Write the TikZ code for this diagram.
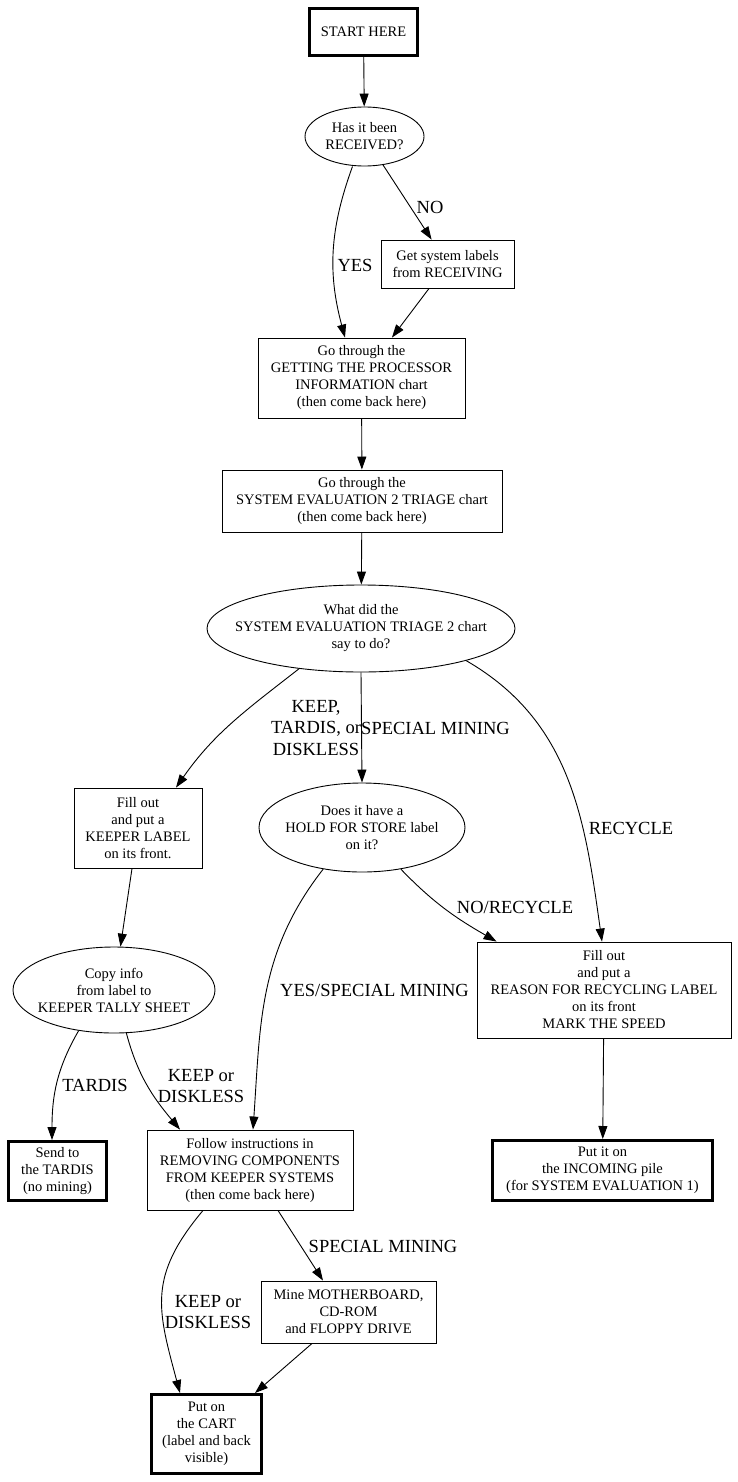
\documentclass[tikz,border=0pt]{standalone}
\usepackage{fontspec}
\setmainfont{Liberation Serif}
\usetikzlibrary{arrows.meta,shapes.geometric}
\newcommand\ndfont{\fontsize{14.5}{17}\selectfont}
\newcommand\lbfont{\fontsize{18.5}{21.5}\selectfont}
\begin{document}
\begin{tikzpicture}[x=1pt,y=1pt,
  box/.style={draw,line width=0.9pt,rectangle,inner sep=0pt,align=center,font=\ndfont},
  thickbox/.style={box,line width=3pt},
  oval/.style={draw,line width=0.9pt,ellipse,inner xsep=-40pt,inner ysep=-20pt,align=center,font=\ndfont},
  edge/.style={line width=0.9pt,-{Triangle[length=13pt,width=9pt]}},
  lbl/.style={inner sep=0pt,align=center,font=\lbfont}]
\fill[white] (0,0) rectangle (738,-1482);
\useasboundingbox (0,0) rectangle (738,-1482);

% nodes
\node[thickbox,minimum width=108pt,minimum height=47pt] (start) at (363.5,-32) {START HERE};
\node[oval,minimum width=119pt,minimum height=59pt] (rec) at (364.5,-136.5) {Has it been\\RECEIVED?};
\node[box,minimum width=133pt,minimum height=48pt] (getlab) at (447.5,-264) {Get system labels\\from RECEIVING};
\node[box,minimum width=207pt,minimum height=80pt] (proc) at (361.5,-378) {Go through the\\GETTING THE PROCESSOR\\INFORMATION chart\\(then come back here)};
\node[box,minimum width=280pt,minimum height=62pt] (eval) at (362,-501) {Go through the\\SYSTEM EVALUATION 2 TRIAGE chart\\(then come back here)};
\node[oval,minimum width=308pt,minimum height=87pt] (what) at (361,-628.5) {What did the\\SYSTEM EVALUATION TRIAGE 2 chart\\say to do?};
\node[box,minimum width=128pt,minimum height=80pt] (keeper) at (138,-828) {Fill out\\and put a\\KEEPER LABEL\\on its front.};
\node[oval,minimum width=206pt,minimum height=89pt] (hold) at (362,-827.5) {Does it have a\\HOLD FOR STORE label\\on it?};
\node[box,minimum width=254pt,minimum height=96pt] (recyc) at (604,-990) {Fill out\\and put a\\REASON FOR RECYCLING LABEL\\on its front\\MARK THE SPEED};
\node[oval,minimum width=202pt,minimum height=86pt] (copy) at (114,-990) {Copy info\\from label to\\KEEPER TALLY SHEET};
\node[thickbox,minimum width=98pt,minimum height=59pt] (send) at (57.5,-1171) {Send to\\the TARDIS\\(no mining)};
\node[box,minimum width=206pt,minimum height=80pt] (follow) at (250,-1170) {Follow instructions in\\REMOVING COMPONENTS\\FROM KEEPER SYSTEMS\\(then come back here)};
\node[thickbox,minimum width=220pt,minimum height=60pt] (incoming) at (602.5,-1170.5) {Put it on\\the INCOMING pile\\(for SYSTEM EVALUATION 1)};
\node[box,minimum width=175pt,minimum height=62pt] (mine) at (348.5,-1312) {Mine MOTHERBOARD,\\CD-ROM\\and FLOPPY DRIVE};
\node[thickbox,minimum width=110pt,minimum height=79pt] (cart) at (206.5,-1434) {Put on\\the CART\\(label and back\\visible)};

% edges
\draw[edge] (start) -- (rec);
\draw[edge] ([xshift=-12pt]rec.south) to[out=-110,in=105] ([xshift=-16.5pt]proc.north);
\draw[edge] (rec) -- (getlab);
\draw[edge] (getlab) -- (proc);
\draw[edge] (proc) -- (eval);
\draw[edge] (eval) -- (what);
\draw[edge] (what.213) to[out=218,in=55] ([xshift=38pt]keeper.north);
\draw[edge] (what.south) -- (hold.north);
\draw[edge] (what.-17) to[out=-30,in=98] ([xshift=-2pt]recyc.north);
\draw[edge] (hold.-47) to[out=-46,in=150] ([xshift=20pt]recyc.north west);
\draw[edge] (hold.227) to[out=-128,in=86] ([xshift=3pt]follow.north);
\draw[edge] (keeper) -- (copy);
\draw[edge] (copy.229) to[out=-120,in=90] ([xshift=-5.5pt]send.north);
\draw[edge] (copy.-74) to[out=-75,in=130] ([xshift=-70pt]follow.north);
\draw[edge] (recyc) -- (incoming);
\draw[edge] ([xshift=-47pt]follow.south) to[out=-130,in=105,looseness=1.2] ([xshift=-26.5pt]cart.north);
\draw[edge] ([xshift=28pt]follow.south) -- ([xshift=-25.5pt]mine.north);
\draw[edge] ([xshift=-36.5pt]mine.south) -- ([xshift=48.5pt]cart.north);

% edge labels
\node[lbl] (lyes) at (355,-265) {YES};
\node[lbl] (lno) at (430,-207) {NO};
\node[lbl] (lkeep1) at (316,-728) {KEEP,\\TARDIS, or\\DISKLESS};
\node[lbl] (lspec1) at (435.5,-728) {SPECIAL MINING};
\node[lbl] (lrec) at (631,-828) {RECYCLE};
\node[lbl] (lnorec) at (515,-907) {NO/RECYCLE};
\node[lbl] (lyesspec) at (374.5,-990) {YES/SPECIAL MINING};
\node[lbl] (ltardis) at (95,-1085) {TARDIS};
\node[lbl] (lkeep2) at (201,-1086) {KEEP or\\DISKLESS};
\node[lbl] (lkeep3) at (208,-1312) {KEEP or\\DISKLESS};
\node[lbl] (lspec2) at (383,-1246) {SPECIAL MINING};
\end{tikzpicture}
\end{document}
